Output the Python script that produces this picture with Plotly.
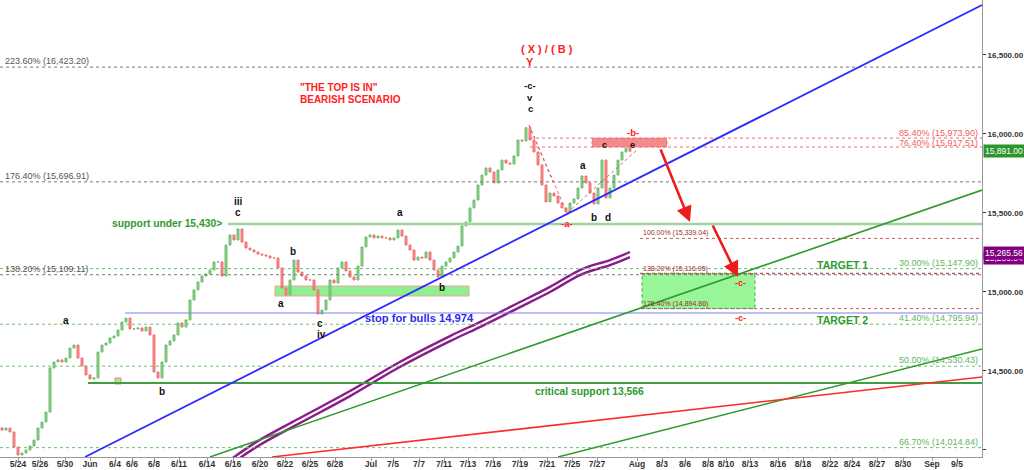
import plotly.graph_objects as go

# ---------------- data ----------------
# hourly-ish closes (one bar per slot)
closes = [14126, 14139, 14114, 14019, 13968, 13981, 14000, 14025, 14063, 14139,
          14177, 14240, 14519, 14557, 14570, 14557, 14582, 14645, 14664, 14582,
          14532, 14475, 14449, 14456, 14620, 14664, 14677, 14709, 14721, 14759,
          14810, 14835, 14766, 14766, 14772, 14753, 14778, 14728, 14494, 14456,
          14557, 14664, 14690, 14728, 14804, 14778, 14823, 14949, 15013, 15063,
          15101, 15114, 15139, 15190, 15190, 15101, 15297, 15361, 15329, 15399,
          15316, 15278, 15266, 15253, 15240, 15234, 15228, 15215, 15215, 15152,
          15025, 14981, 15076, 15202, 15126, 15101, 15076, 15076, 15013, 14861,
          14886, 14949, 15076, 15057, 15152, 15190, 15133, 15095, 15076, 15164,
          15285, 15348, 15361, 15342, 15354, 15342, 15342, 15329, 15342, 15392,
          15354, 15297, 15266, 15202, 15221, 15215, 15253, 15202, 15139, 15095,
          15164, 15190, 15215, 15253, 15291, 15418, 15443, 15532, 15582, 15677,
          15740, 15785, 15759, 15690, 15772, 15835, 15816, 15810, 15861, 15962,
          15956, 16040, 15962, 15886, 15804, 15677, 15570, 15626, 15608, 15563,
          15532, 15506, 15563, 15589, 15658, 15734, 15690, 15626, 15557, 15658,
          15835, 15595, 15658, 15740, 15835, 15886, 15911, 15891]
first_open = 14140

tick_pos = [4.0, 9.5, 15.75, 22, 28.25, 32.5, 38, 44.25, 51.25, 57.75, 64.5, 70.75,
            77, 83.25, 92.25, 97.75, 104.25, 110.5, 116.5, 122.75, 129.5, 136.25,
            142.5, 148.75, 158.75, 165, 170.75, 176.5, 181, 187, 194, 200.25, 207,
            212.5, 218.75, 225.25, 232.5, 238.75]
tick_text = ["5/24", "5/26", "5/30", "Jun", "6/4", "6/6", "6/8", "6/11", "6/14", "6/16",
             "6/20", "6/22", "6/25", "6/28", "Jul", "7/5", "7/7", "7/11", "7/13", "7/16",
             "7/19", "7/21", "7/25", "7/27", "Aug", "8/3", "8/6", "8/8", "8/10", "8/13",
             "8/16", "8/18", "8/22", "8/24", "8/27", "8/30", "Sep", "9/5"]

y_ticks = [14000, 14500, 15000, 15500, 16000, 16500]

# moving-average band (purple double line)
ma_bars = [57, 64, 74, 87, 99, 112, 120, 129, 137, 145, 152, 157]
ma_upper = [13937, 14057, 14196, 14373, 14551, 14721, 14816, 14930, 15032, 15145, 15202, 15253]
ma_lower = [13905, 14025, 14164, 14341, 14519, 14689, 14784, 14898, 15000, 15113, 15170, 15221]

# trend lines: ((bar, value), (bar, value))
trend_blue = ((20.75, 13956), (245, 16816))
trend_green_1 = ((52, 13956), (245, 15645))
trend_green_2 = ((139, 13956), (245, 14639))
trend_red = ((67.5, 13956), (245, 14462))

# fib levels
gray_fibs = [16423.20, 15696.91, 15109.11]
gray_fib_labels = ["223.60% (16,423.20)", "176.40% (15,696.91)", "138.20% (15,109.11)"]
green_fibs = [15147.90, 14795.94, 14530.43, 14014.84]
green_fib_labels = ["30.00% (15,147.90)", "41.40% (14,795.94)", "50.00% (14,530.43)", "66.70% (14,014.84)"]
red_fibs = [15973.90, 15917.51]
red_fib_labels = ["85.40% (15,973.90)", "76.40% (15,917.51)"]
brown_fibs = [15339.04, 15116.95, 14894.86]
brown_fib_labels = ["100.00% (15,339.04)", "138.20% (15,116.95)", "176.40% (14,894.86)"]

support_level = 15430
stop_level = 14867
critical_level = 14424
last_close_label = "15,891.00"
ma_label = "15,265.56"
ma_label_2 = "15,233.04"

# ---------------- helpers (pixel placement for annotations) ----------------
Y_TOP, Y_BOT = 16848.0, 13955.6
PLOT_H = 457.0


def bx(px):
    return px / 4.0 - 0.5


def vy(py):
    return Y_TOP - (Y_TOP - Y_BOT) * py / PLOT_H


X_MAX = 245.0
FONT = "Arial, Liberation Sans, sans-serif"

fig = go.Figure()

opens = [first_open] + closes[:-1]
highs = [max(o, c) for o, c in zip(opens, closes)]
lows = [min(o, c) for o, c in zip(opens, closes)]
fig.add_trace(go.Candlestick(
    x=list(range(len(closes))), open=opens, high=highs, low=lows, close=closes,
    increasing=dict(line=dict(color="#6cbf6c", width=1), fillcolor="#8fd18f"),
    decreasing=dict(line=dict(color="#f07070", width=1), fillcolor="#f49090"),
    whiskerwidth=0, showlegend=False, hoverinfo="skip"))

# purple MA band
for ser in (ma_upper, ma_lower):
    fig.add_trace(go.Scatter(x=ma_bars, y=ser, mode="lines", line=dict(color="#8a1c8a", width=2.4, shape="spline"),
                             showlegend=False, hoverinfo="skip"))

# ---------- shapes ----------
shapes = []


def hline(y, x0, x1, color, width=1, dash="solid", layer="above"):
    shapes.append(dict(type="line", xref="x", yref="y", x0=x0, x1=x1, y0=y, y1=y,
                       line=dict(color=color, width=width, dash=dash), layer=layer))


# boxes
shapes.append(dict(type="rect", x0=bx(275), x1=bx(469), y0=vy(296), y1=vy(286), fillcolor="#8ef08e",
                   line=dict(color="#f0a0a0", width=1), layer="below"))
shapes.append(dict(type="rect", x0=bx(642), x1=bx(755), y0=brown_fibs[2], y1=brown_fibs[1], fillcolor="#98f598",
                   line=dict(color="#40a040", width=1, dash="dot"), layer="below"))
shapes.append(dict(type="rect", x0=bx(592), x1=bx(667), y0=red_fibs[1], y1=red_fibs[0], fillcolor="#f58a8a",
                   line=dict(color="#f07070", width=1, dash="dot"), layer="below"))

for v in gray_fibs:
    hline(v, -0.5, X_MAX, "#777777", 1, "dot")
for v in green_fibs:
    hline(v, -0.5, X_MAX, "#6cbf6c", 1, "dot")
for v in red_fibs:
    hline(v, bx(530), X_MAX, "#f07070", 1, "dot")
for v in brown_fibs:
    hline(v, bx(640), X_MAX, "#c05a5a", 1.6 if v == brown_fibs[1] else 1, "dot")

hline(support_level, bx(228), X_MAX, "#9fd49f", 2.5)
hline(stop_level, bx(125), X_MAX, "#8080f0", 1.2)
hline(critical_level, bx(88), X_MAX, "#3f9f3f", 2)

for (p0, p1), col, w in [(trend_blue, "#2a2aff", 1.8), (trend_green_1, "#2e9a2e", 1.6),
                         (trend_green_2, "#2e9a2e", 1.6), (trend_red, "#ff2a2a", 1.6)]:
    shapes.append(dict(type="line", xref="x", yref="y", x0=p0[0], y0=p0[1], x1=p1[0], y1=p1[1],
                       line=dict(color=col, width=w), layer="above"))

# dotted wedge lines near the top
for (a, b) in [((529, 125), (567, 213)), ((567, 213), (637, 150)), ((529, 125), (553, 182))]:
    shapes.append(dict(type="line", xref="x", yref="y", x0=bx(a[0]), y0=vy(a[1]), x1=bx(b[0]), y1=vy(b[1]),
                       line=dict(color="#e06060", width=1, dash="dot"), layer="above"))

# ---------- annotations ----------
ann = []


def txt(t, px, py, color="#111", size=10, bold=True, xanchor="center"):
    ann.append(dict(text=("<b>%s</b>" % t) if bold else t, x=bx(px), y=vy(py), xref="x", yref="y",
                    showarrow=False, xanchor=xanchor, yanchor="middle",
                    font=dict(family=FONT, size=size, color=color)))


for lab, v in zip(gray_fib_labels, gray_fibs):
    ann.append(dict(text=lab, x=bx(3), y=v, xref="x", yref="y", showarrow=False, xanchor="left",
                    yanchor="bottom", yshift=-1, font=dict(family=FONT, size=9, color="#555")))
for lab, v in zip(green_fib_labels, green_fibs):
    ann.append(dict(text=lab, x=bx(980), y=v, xref="x", yref="y", showarrow=False, xanchor="right",
                    yanchor="bottom", yshift=-1, font=dict(family=FONT, size=9, color="#5fb55f")))
for lab, v, dy in zip(red_fib_labels, red_fibs, [0, -1]):
    ann.append(dict(text=lab, x=bx(980), y=v, xref="x", yref="y", showarrow=False, xanchor="right",
                    yanchor="bottom", yshift=dy - 2, font=dict(family=FONT, size=9, color="#f06060")))
for lab, v in zip(brown_fib_labels, brown_fibs):
    ann.append(dict(text=lab, x=bx(641), y=v, xref="x", yref="y", showarrow=False, xanchor="left",
                    yanchor="bottom", yshift=-1, font=dict(family=FONT, size=7, color="#9a2a2a")))

txt("( X ) / ( B )", 547, 49, "#ff2020", 11)
txt("Y", 530, 62, "#ff2020", 11)
txt("-c-", 530, 85, "#111", 9.5)
txt("v", 530, 97, "#111", 9.5)
txt("c", 530, 108, "#111", 9.5)
txt("\"THE TOP IS IN\"", 298, 87, "#ff2020", 10, xanchor="left")
txt("BEARISH SCENARIO", 298, 99, "#ff2020", 10, xanchor="left")
txt("iii", 238, 201)
txt("c", 238, 212)
txt("support under 15,430>", 110, 223, "#2e9a2e", 10.3, xanchor="left")
txt("b", 293, 251)
txt("a", 281, 303)
txt("c", 320, 323)
txt("iv", 321, 334)
txt("a", 400, 212)
txt("b", 442, 287)
txt("a", 583, 165)
txt("b", 594, 217)
txt("d", 608, 217)
txt("-a-", 567, 223, "#ff2020", 9.5)
txt("-b-", 633, 132, "#ff2020", 9.5)
txt("c", 604, 145, "#111", 9)
txt("e", 632, 145, "#111", 9)
txt("TARGET 1", 842, 265, "#2e9a2e", 10.5)
txt("TARGET 2", 842, 320, "#2e9a2e", 10.5)
txt("-c-", 740, 283, "#ff2020", 9)
txt("-c-", 740, 318, "#ff2020", 9)
txt("a", 66, 320)
txt("b", 162, 391)
txt("stop for bulls 14,974", 363, 318, "#2a2aee", 11.2, xanchor="left")
txt("critical support 13,566", 533, 391, "#2e9a2e", 10.3, xanchor="left")

# red arrows
for (tail, head) in [((660, 148), (690, 222)), ((712, 224), (738, 277))]:
    ann.append(dict(x=bx(head[0]), y=vy(head[1]), ax=bx(tail[0]), ay=vy(tail[1]), xref="x", yref="y",
                    axref="x", ayref="y", showarrow=True, arrowhead=2, arrowsize=1.2, arrowwidth=2.6,
                    arrowcolor="#ee1c1c", text=""))

# right side value boxes
for lab, yv, col in [(ma_label_2, vy(258), "#800080"), (ma_label, vy(253), "#800080"),
                     (last_close_label, closes[-1], "#2b962b")]:
    ann.append(dict(text=lab, x=1, y=yv, xref="paper", yref="y", xanchor="left", xshift=1,
                    showarrow=False, bgcolor=col, borderpad=1,
                    font=dict(family=FONT, size=8.5, color="white")))

# small marker
fig.add_trace(go.Scatter(x=[bx(118)], y=[vy(381)], mode="markers",
                         marker=dict(symbol="square", size=6, color="#a0f0a0",
                                     line=dict(color="#f08080", width=1)),
                         showlegend=False, hoverinfo="skip"))

fig.update_layout(
    width=1024, height=470,
    margin=dict(l=0, r=42, t=0, b=13),
    paper_bgcolor="white", plot_bgcolor="white",
    shapes=shapes, annotations=ann,
    showlegend=False,
    xaxis=dict(range=[-0.5, X_MAX], tickmode="array", tickvals=tick_pos,
               ticktext=["<b>%s</b>" % t for t in tick_text],
               showgrid=False, zeroline=False, showline=True, linecolor="#999", ticks="outside",
               ticklen=3, tickcolor="#999", rangeslider=dict(visible=False), ticklabelstandoff=-4,
               tickfont=dict(family=FONT, size=8.5, color="#333")),
    yaxis=dict(range=[Y_BOT, Y_TOP], side="right", tickmode="array", tickvals=y_ticks,
               ticktext=["" if v == y_ticks[0] else "<b>{:,.2f}</b>".format(v) for v in y_ticks],
               showgrid=False, zeroline=False,
               showline=True, linecolor="#999", ticks="outside", ticklen=3, tickcolor="#333",
               tickfont=dict(family=FONT, size=8, color="#333")),
)

fig.write_html("out.html", config={"displayModeBar": False},
               post_script="document.body.style.margin='0px';document.body.style.overflow='hidden';")
